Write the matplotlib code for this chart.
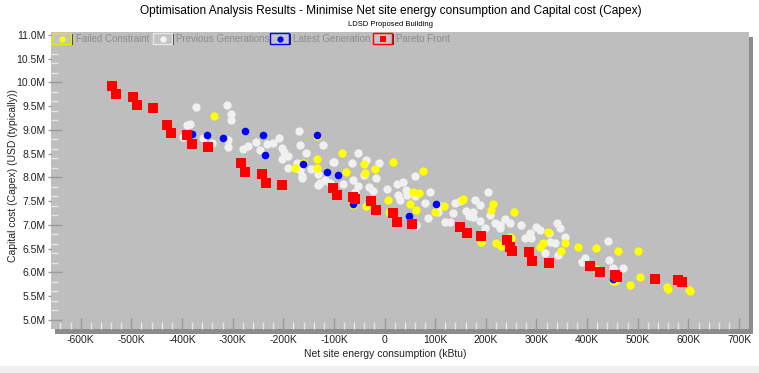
import matplotlib
matplotlib.use("Agg")
import matplotlib.pyplot as plt
from matplotlib.patches import Rectangle
from matplotlib.ticker import MultipleLocator, FuncFormatter

# ---------------- data (x in kBtu thousands, y in USD millions) ----------------
pareto_x = [-538, -530, -497, -488, -457, -430, -422, -390, -381, -349, -284, -275, -242, -234,
            -203, -101, -94, -63, -59, -26, -17, 17, 24, 55, 149, 162, 191, 241, 247, 251, 285,
            292, 324, 405, 426, 456, 459, 534, 580, 587]
pareto_y = [9.93, 9.75, 9.70, 9.53, 9.46, 9.10, 8.93, 8.89, 8.71, 8.63, 8.31, 8.11, 8.07, 7.88,
            7.84, 7.77, 7.63, 7.58, 7.54, 7.51, 7.32, 7.25, 7.07, 7.01, 6.96, 6.82, 6.77, 6.68,
            6.54, 6.46, 6.44, 6.25, 6.19, 6.14, 6.00, 5.95, 5.90, 5.87, 5.84, 5.80]

latest_x = [-381, -351, -319, -275, -240, -237, -161, -134, -113, -92, -62, 49, 101, 451]
latest_y = [8.92, 8.90, 8.83, 8.98, 8.90, 8.47, 8.28, 8.89, 8.12, 8.05, 7.44, 7.19, 7.44, 5.86]

failed_x = [-336, -134, -134, -177, -85, -40, -39, -19, 16, 76, -76, 7, -36, 51, 62, 56, 68, 99,
            118, 154, 211, 214, 255, 221, 191, 323, 307, 247, 152, 229, 249, 313, 356, 349, 382,
            418, 461, 501, 418, 504, 484, 455, 557, 560, 601, 603, -134, -62, 452, -161, 9]
failed_y = [9.30, 8.38, 8.19, 8.19, 8.51, 8.28, 8.10, 8.18, 8.33, 8.13, 8.12, 7.53, 7.39, 7.44,
            7.32, 7.70, 7.67, 7.28, 7.39, 7.54, 7.32, 7.44, 7.28, 6.61, 6.65, 6.86, 6.54, 6.75,
            7.53, 6.56, 6.72, 6.63, 6.61, 6.46, 6.54, 6.51, 6.46, 6.46, 6.07, 5.90, 5.74, 5.81,
            5.70, 5.65, 5.63, 5.60, 8.87, 7.41, 5.81, 8.31, 7.27]

previous_x = [-373, -312, -303, -303, -390, -358, -341, -310, -310, -270, -254, -233, -221, -208,
              -203, -199, -190, -203, -169, -166, -156, -173, -167, -163, -146, -131, -121, -99,
              -118, -131, -108, -164, -128, -101, -82, -65, -52, -36, -62, -52, -59, -11, -16,
              -23, 5, 24, 37, 60, 42, 27, 30, 60, 63, 80, 86, 89, 106, 120, 135, 139, 149, 174,
              178, 188, 188, 205, 228, 287, 307, 290, 175, 167, 129, 198, 208, 218, 228, 238, 247,
              277, 325, 326, 336, 340, 346, 356, 343, 316, 389, 395, 441, 443, 451, 471, -385,
              -398, -280, -246, -190, -40, -30, 45, 110, 160, 270, 300]
previous_y = [9.49, 9.52, 9.34, 9.20, 9.11, 8.83, 8.72, 8.79, 8.64, 8.66, 8.75, 8.71, 8.72, 8.83,
              8.61, 8.54, 8.45, 8.38, 8.98, 8.68, 8.51, 8.31, 8.16, 7.98, 8.18, 8.07, 8.69, 8.33,
              7.95, 7.84, 7.88, 8.02, 7.88, 8.32, 7.86, 8.31, 8.51, 8.37, 7.95, 7.81, 7.70, 8.30,
              7.98, 7.72, 7.76, 7.86, 7.91, 8.02, 7.74, 7.63, 7.53, 7.60, 7.00, 7.47, 7.14, 7.70,
              7.28, 7.06, 7.25, 7.47, 7.51, 7.17, 7.53, 7.42, 7.08, 7.70, 7.00, 6.83, 6.89, 6.72,
              7.28, 7.19, 7.07, 6.93, 7.21, 7.04, 6.93, 7.12, 7.05, 6.72, 6.83, 6.65, 6.61, 7.04,
              6.93, 6.75, 6.37, 6.40, 6.21, 6.30, 6.67, 6.26, 6.09, 6.09, 9.13, 8.85, 8.60, 8.58,
              8.20, 8.05, 7.80, 7.62, 7.40, 7.30, 7.00, 6.95]

legend_labels = ["Failed Constraint", "Previous Generations", "Latest Generation", "Pareto Front"]
title = "Optimisation Analysis Results - Minimise Net site energy consumption and Capital cost (Capex)"
subtitle = "LDSD Proposed Building"
xlabel = "Net site energy consumption (kBtu)"
ylabel = "Capital cost (Capex) (USD (typically))"

# ---------------- figure ----------------
W, H = 759, 373
plt.rcParams['font.family'] = ['Liberation Sans', 'DejaVu Sans']
fig = plt.figure(figsize=(W / 100, H / 100), dpi=100)
fig.patch.set_facecolor('white')

def fx(px):
    return px / W

def fy(py):
    return 1 - py / H

# bottom light band
fig.patches.append(Rectangle((0, 0), 1, fy(366), transform=fig.transFigure,
                             facecolor='#f0f0f0', edgecolor='none', zorder=-2))
# shadow of plot area
fig.patches.append(Rectangle((fx(55), fy(334)), fx(753) - fx(55), fy(37) - fy(334),
                             transform=fig.transFigure, facecolor='#8c8c8c',
                             edgecolor='none', zorder=-1))

L, R, T, B = 51, 749, 32, 329
ax = fig.add_axes([fx(L), fy(B), fx(R) - fx(L), fy(T) - fy(B)])
ax.set_zorder(1)
ax.set_facecolor('#bebebe')
for s in ax.spines.values():
    s.set_visible(False)

ax.scatter(previous_x, previous_y, s=36, marker='o', color='#f0f0f0', linewidths=0, zorder=3)
ax.scatter(failed_x, failed_y, s=36, marker='o', color='#ffff00', linewidths=0, zorder=4)
ax.scatter(latest_x, latest_y, s=30, marker='o', color='#0000ff', linewidths=0, zorder=5)
ax.scatter(pareto_x, pareto_y, s=42, marker='s', color='#ff0000', linewidths=0, zorder=6)

ax.set_xlim(-658.7, 719.7)
ax.set_ylim(4.81, 11.06)

# labels ticks
ax.xaxis.set_major_locator(MultipleLocator(100))
ax.xaxis.set_major_formatter(FuncFormatter(lambda v, p: "0" if abs(v) < 1e-6 else f"{int(round(v))}K"))
ax.yaxis.set_major_locator(MultipleLocator(0.5))
ax.yaxis.set_major_formatter(FuncFormatter(lambda v, p: f"{v:.1f}M"))
ax.tick_params(axis='x', direction='in', length=8, width=1, color='#9a9a9a',
               labelsize=7.5, labelcolor='#222222', pad=4)
ax.tick_params(axis='y', direction='out', length=2, width=1, color='#9a9a9a',
               labelsize=7.5, labelcolor='#222222', pad=2)
ax.xaxis.set_minor_locator(MultipleLocator(20))
ax.tick_params(axis='x', which='minor', direction='in', length=5, width=1, color='#e6e6e6')

# inner y ticks
sec = ax.secondary_yaxis('left')
sec.yaxis.set_major_locator(MultipleLocator(1.0))
sec.yaxis.set_minor_locator(MultipleLocator(0.2))
sec.tick_params(axis='y', which='major', direction='in', length=8, width=1, color='#9a9a9a',
                labelleft=False)
sec.tick_params(axis='y', which='minor', direction='in', length=5, width=1, color='#e6e6e6')
for s in sec.spines.values():
    s.set_visible(False)

# axis labels
fig.text(fx(385), fy(354), xlabel, ha='center', va='center', fontsize=7.5, color='#222222')
fig.text(fx(13), fy(175), ylabel, ha='center', va='center', rotation=90, fontsize=7.5,
         color='#222222')

# titles
fig.text(fx(391), fy(11), title, ha='center', va='center', fontsize=8.6, color='#000000')
fig.text(fx(390), fy(24), subtitle, ha='center', va='center', fontsize=5.5, color='#000000')

# legend
entries = [(52, 76, '#e8e800', '#ffff00', 'o'),
           (153, 176, '#e6e6e6', '#f4f4f4', 'o'),
           (270, 293, '#0000ff', '#0000ff', 'o'),
           (373, 396, '#ff0000', '#ff0000', 's')]
for (bx, tx, ec, mc, mk), lab in zip(entries, legend_labels):
    fig.patches.append(Rectangle((fx(bx + 1), fy(45)), fx(20), fy(34) - fy(45),
                                 transform=fig.transFigure, facecolor='#303030',
                                 edgecolor='none', zorder=5))
    fig.patches.append(Rectangle((fx(bx), fy(44)), fx(19), fy(33) - fy(44),
                                 transform=fig.transFigure, facecolor='#c4c4c4',
                                 edgecolor=ec, linewidth=1.0, zorder=6))
    fig.lines.append(plt.Line2D([fx(bx + 9.5)], [fy(38.5)], transform=fig.transFigure,
                                marker=mk, markersize=4.5, color=mc, markeredgewidth=0,
                                linestyle='none', zorder=7))
    fig.text(fx(tx), fy(39), lab, ha='left', va='center', fontsize=7, color='#8c8c8c', zorder=7)

fig.savefig("out.png", dpi=100, facecolor=fig.get_facecolor())
